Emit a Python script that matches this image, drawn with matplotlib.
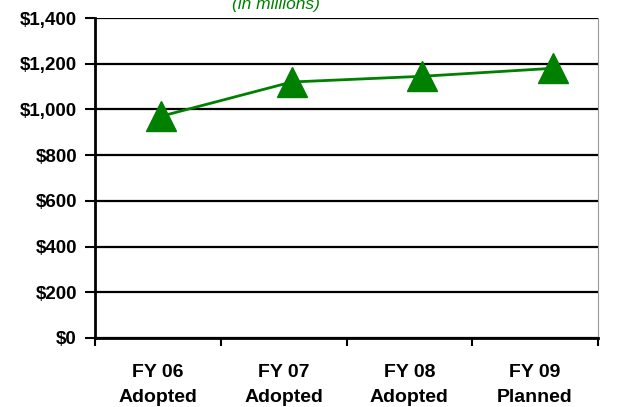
import matplotlib.pyplot as plt
from matplotlib.ticker import FuncFormatter

# Budget by fiscal year ($ millions)
years = ["FY 06\nAdopted", "FY 07\nAdopted", "FY 08\nAdopted", "FY 09\nPlanned"]
budget = [970, 1120, 1145, 1180]
y_ticks = [0, 200, 400, 600, 800, 1000, 1200, 1400]

plt.rcParams["font.family"] = ["Liberation Sans", "DejaVu Sans"]

fig = plt.figure(figsize=(6.24, 4.07), dpi=100)
ax = fig.add_axes([95 / 624, 1 - 338 / 407, 503 / 624, 320 / 407])

# category axis: labels centred in each slot, ticks on slot edges
ax.set_xlim(-0.5, 3.5)
ax.set_xticks([i + 0.5 for i in range(-1, 4)])
ax.set_xticklabels([])
ax.set_xticks(range(4), minor=True)
ax.set_xticklabels(years, minor=True, fontsize=14, fontweight="bold",
                   linespacing=1.6)
ax.tick_params(axis="x", which="minor", length=0, pad=19)
ax.tick_params(axis="x", which="major", length=6, width=1.5, direction="out")

ax.set_ylim(0, 1400)
ax.set_yticks(y_ticks)
ax.yaxis.set_major_formatter(FuncFormatter(lambda v, p: f"${v:,.0f}"))
for lbl in ax.get_yticklabels():
    lbl.set_fontweight("bold")
    lbl.set_fontsize(13.5)
ax.tick_params(axis="y", length=7, width=1.5, direction="out", pad=6)

ax.grid(axis="y", color="black", linewidth=1.6)
ax.set_axisbelow(True)
ax.spines["top"].set_visible(False)
ax.spines["right"].set_color("#999999")
ax.spines["left"].set_linewidth(2)
ax.spines["bottom"].set_linewidth(2)

# the line series sits on its own (slightly wider) category scale
ax2 = ax.twiny()
ax2.set_xlim(-0.505, 3.344)
ax2.plot(range(len(budget)), budget, color="#008000", linewidth=2,
         marker="^", markersize=21, clip_on=False)
ax2.set_ylim(0, 1400)
ax2.axis("off")

fig.text(276 / 624, 1 - 4 / 407, "(in millions)", color="#008000",
         fontsize=12.5, fontstyle="italic", ha="center", va="center")

fig.savefig("out.png", dpi=100)
